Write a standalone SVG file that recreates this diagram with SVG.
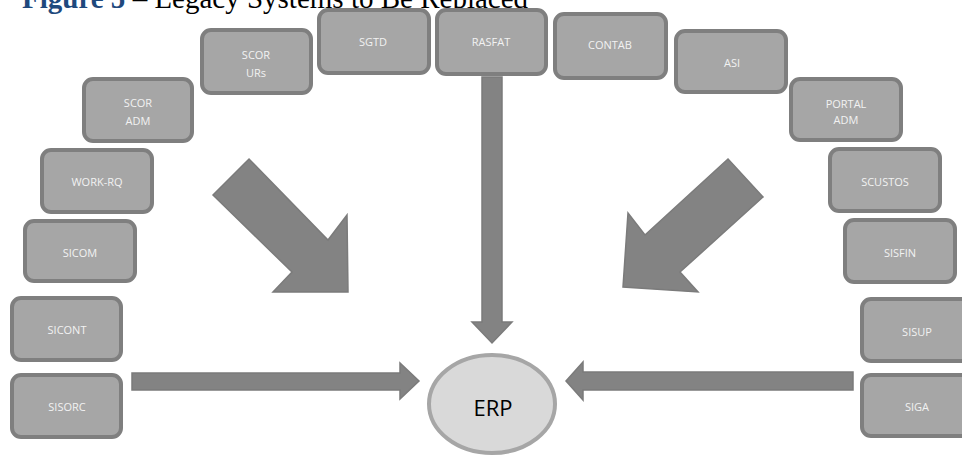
<svg xmlns="http://www.w3.org/2000/svg" width="962" height="455" viewBox="0 0 962 455">
  <style>
    .sys rect { fill: #a6a6a6; stroke: #7f7f7f; stroke-width: 4; }
    .sys text { font-family: "Open Sans", "Liberation Sans", sans-serif; font-size: 11px; fill: #f2f2f2; text-anchor: middle; }
    .flow { fill: #838383; stroke: #7b7b7b; stroke-width: 1.5; stroke-linejoin: miter; }
    .title { font-family: "Liberation Serif", "Times New Roman", serif; font-size: 29px; }
  </style>

  <rect width="962" height="455" fill="#ffffff"/>

  <!-- caption, partly cut at the top edge -->
  <text class="title" x="22" y="8"><tspan font-weight="bold" fill="#1f497d">Figure 5</tspan><tspan fill="#000000"> – Legacy Systems to Be Replaced</tspan></text>

  <!-- connectors: arrows pointing into the ERP -->
  <g id="connectors">
    <polygon class="flow" points="213,195 249,159 328,240 347,215 348,292 273,292 292,272"/>
    <polygon class="flow" points="728,159 763,197 680,272 698,292 623,287 628,213 645,235"/>
    <polygon class="flow" points="482,77 502,77 502,322 512,322 492,343 472,322 482,322"/>
    <polygon class="flow" points="132,373 400,373 400,363 419,381 400,399 400,390 132,390"/>
    <polygon class="flow" points="853,372 583,372 583,362 566,381 583,400 583,390 853,390"/>
  </g>

  <!-- legacy systems -->
  <g id="sisorc" class="sys"><rect x="12" y="375" width="109" height="62" rx="9"/><text x="67" y="411">SISORC</text></g>
  <g id="sicont" class="sys"><rect x="12" y="298" width="109" height="62" rx="9"/><text x="67" y="334">SICONT</text></g>
  <g id="sicom" class="sys"><rect x="25" y="221" width="110" height="60" rx="9"/><text x="80" y="257">SICOM</text></g>
  <g id="work-rq" class="sys"><rect x="42" y="150" width="110" height="62" rx="9"/><text x="97" y="186">WORK-RQ</text></g>
  <g id="scor-adm" class="sys"><rect x="84" y="79" width="108" height="62" rx="9"/><text x="138" y="107">SCOR</text><text x="138" y="125">ADM</text></g>
  <g id="scor-urs" class="sys"><rect x="202" y="30" width="109" height="63" rx="9"/><text x="256" y="59">SCOR</text><text x="256" y="77">URs</text></g>
  <g id="sgtd" class="sys"><rect x="319" y="10" width="110" height="63" rx="9"/><text x="373" y="46">SGTD</text></g>
  <g id="rasfat" class="sys"><rect x="437" y="10" width="109" height="64" rx="9"/><text x="491" y="46">RASFAT</text></g>
  <g id="contab" class="sys"><rect x="555" y="14" width="111" height="64" rx="9"/><text x="610" y="49">CONTAB</text></g>
  <g id="asi" class="sys"><rect x="676" y="31" width="110" height="61" rx="9"/><text x="732" y="67">ASI</text></g>
  <g id="portal-adm" class="sys"><rect x="791" y="79" width="110" height="61" rx="9"/><text x="846" y="108">PORTAL</text><text x="846" y="124">ADM</text></g>
  <g id="scustos" class="sys"><rect x="830" y="149" width="110" height="62" rx="9"/><text x="885" y="186">SCUSTOS</text></g>
  <g id="sisfin" class="sys"><rect x="845" y="220" width="110" height="62" rx="9"/><text x="900" y="257">SISFIN</text></g>
  <g id="sisup" class="sys"><rect x="862" y="299" width="110" height="62" rx="9"/><text x="917" y="336">SISUP</text></g>
  <g id="siga" class="sys"><rect x="862" y="375" width="110" height="61" rx="9"/><text x="917" y="411">SIGA</text></g>

  <!-- target system -->
  <g id="erp">
    <ellipse cx="492" cy="404" rx="63" ry="49" fill="#d9d9d9" stroke="#a6a6a6" stroke-width="4"/>
    <text x="493" y="416" font-family="Open Sans, Liberation Sans, sans-serif" font-size="22" fill="#000000" text-anchor="middle">ERP</text>
  </g>
</svg>
